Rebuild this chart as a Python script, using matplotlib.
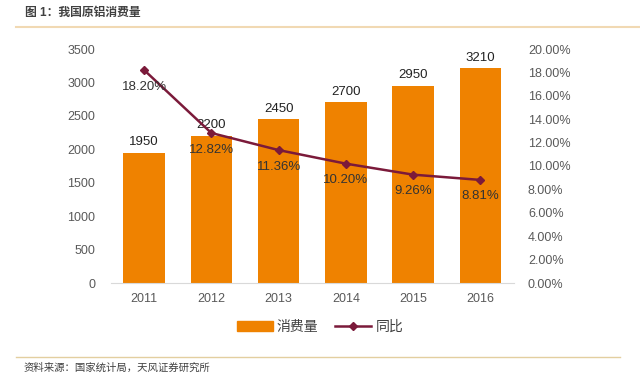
import matplotlib.pyplot as plt
import numpy as np
from matplotlib.lines import Line2D
from matplotlib.patches import Patch

plt.rcParams['font.family'] = ['Liberation Sans', 'Noto Sans CJK SC', 'DejaVu Sans']

# 数据
years = ['2011', '2012', '2013', '2014', '2015', '2016']
consumption = [1950, 2200, 2450, 2700, 2950, 3210]
yoy = [18.20, 12.82, 11.36, 10.20, 9.26, 8.81]

bar_color = '#EF8200'
line_color = '#7B1A3A'
tick_color = '#595959'

fig = plt.figure(figsize=(6.4, 3.85), dpi=100)
ax = fig.add_axes([110.5 / 640, 1 - 283 / 385, (514 - 110.5) / 640, (283 - 49) / 385])

x = np.arange(len(years))
ax.bar(x, consumption, width=0.62, color=bar_color, zorder=2)
for xi, v in zip(x, consumption):
    ax.text(xi, v + 70, str(v), ha='center', va='bottom', fontsize=9.5, color='#222222', zorder=5)

ax.set_xlim(-0.5, len(years) - 0.5)
ax.set_ylim(0, 3500)
ax.set_yticks(np.arange(0, 3501, 500))
ax.set_xticks(x)
ax.set_xticklabels(years)
ax.tick_params(axis='both', length=0, labelsize=9, colors=tick_color)
ax.tick_params(axis='y', pad=11)
ax.tick_params(axis='x', pad=7)
for s in ['top', 'right', 'left']:
    ax.spines[s].set_visible(False)
ax.spines['bottom'].set_color('#D9D9D9')

ax2 = ax.twinx()
ax2.plot(x, yoy, color=line_color, linewidth=1.8, marker='D', markersize=4.5, zorder=4)
for xi, v in zip(x, yoy):
    ax2.text(xi, v - 0.9, '%.2f%%' % v, ha='center', va='top', fontsize=9.5, color='#333333', zorder=5)
ax2.set_ylim(0, 20)
ax2.set_yticks(np.arange(0, 20.01, 2))
ax2.set_yticklabels(['%.2f%%' % t for t in np.arange(0, 20.01, 2)])
ax2.tick_params(axis='y', length=0, labelsize=9, colors=tick_color, pad=10)
for s in ['top', 'right', 'left', 'bottom']:
    ax2.spines[s].set_visible(False)

# 图例
handles = [Patch(color=bar_color, label='消费量'),
           Line2D([0], [0], color=line_color, marker='D', markersize=4, linewidth=1.8, label='同比')]
fig.legend(handles=handles, loc='center', bbox_to_anchor=(320 / 640, 1 - 327 / 385), ncol=2,
           frameon=False, fontsize=10, handlelength=2.6, handletextpad=0.3, columnspacing=1.2,
           labelcolor='#404040')

# 标题与来源
fig.text(25 / 640, 1 - 13 / 385, '图 1：我国原铝消费量', fontsize=8.5, fontweight='bold',
         color='#404040', va='center', ha='left')
fig.add_artist(Line2D([16 / 640, 1.0], [1 - 27 / 385, 1 - 27 / 385], color='#F1D9B3', linewidth=1.5))
fig.add_artist(Line2D([16 / 640, 620 / 640], [1 - 357 / 385, 1 - 357 / 385], color='#E3CFA0', linewidth=1.0))
fig.text(24 / 640, 1 - 368 / 385, '资料来源：国家统计局，天风证券研究所', fontsize=7.5,
         color='#404040', va='center', ha='left')

fig.savefig('out.png', dpi=100, facecolor='white')
